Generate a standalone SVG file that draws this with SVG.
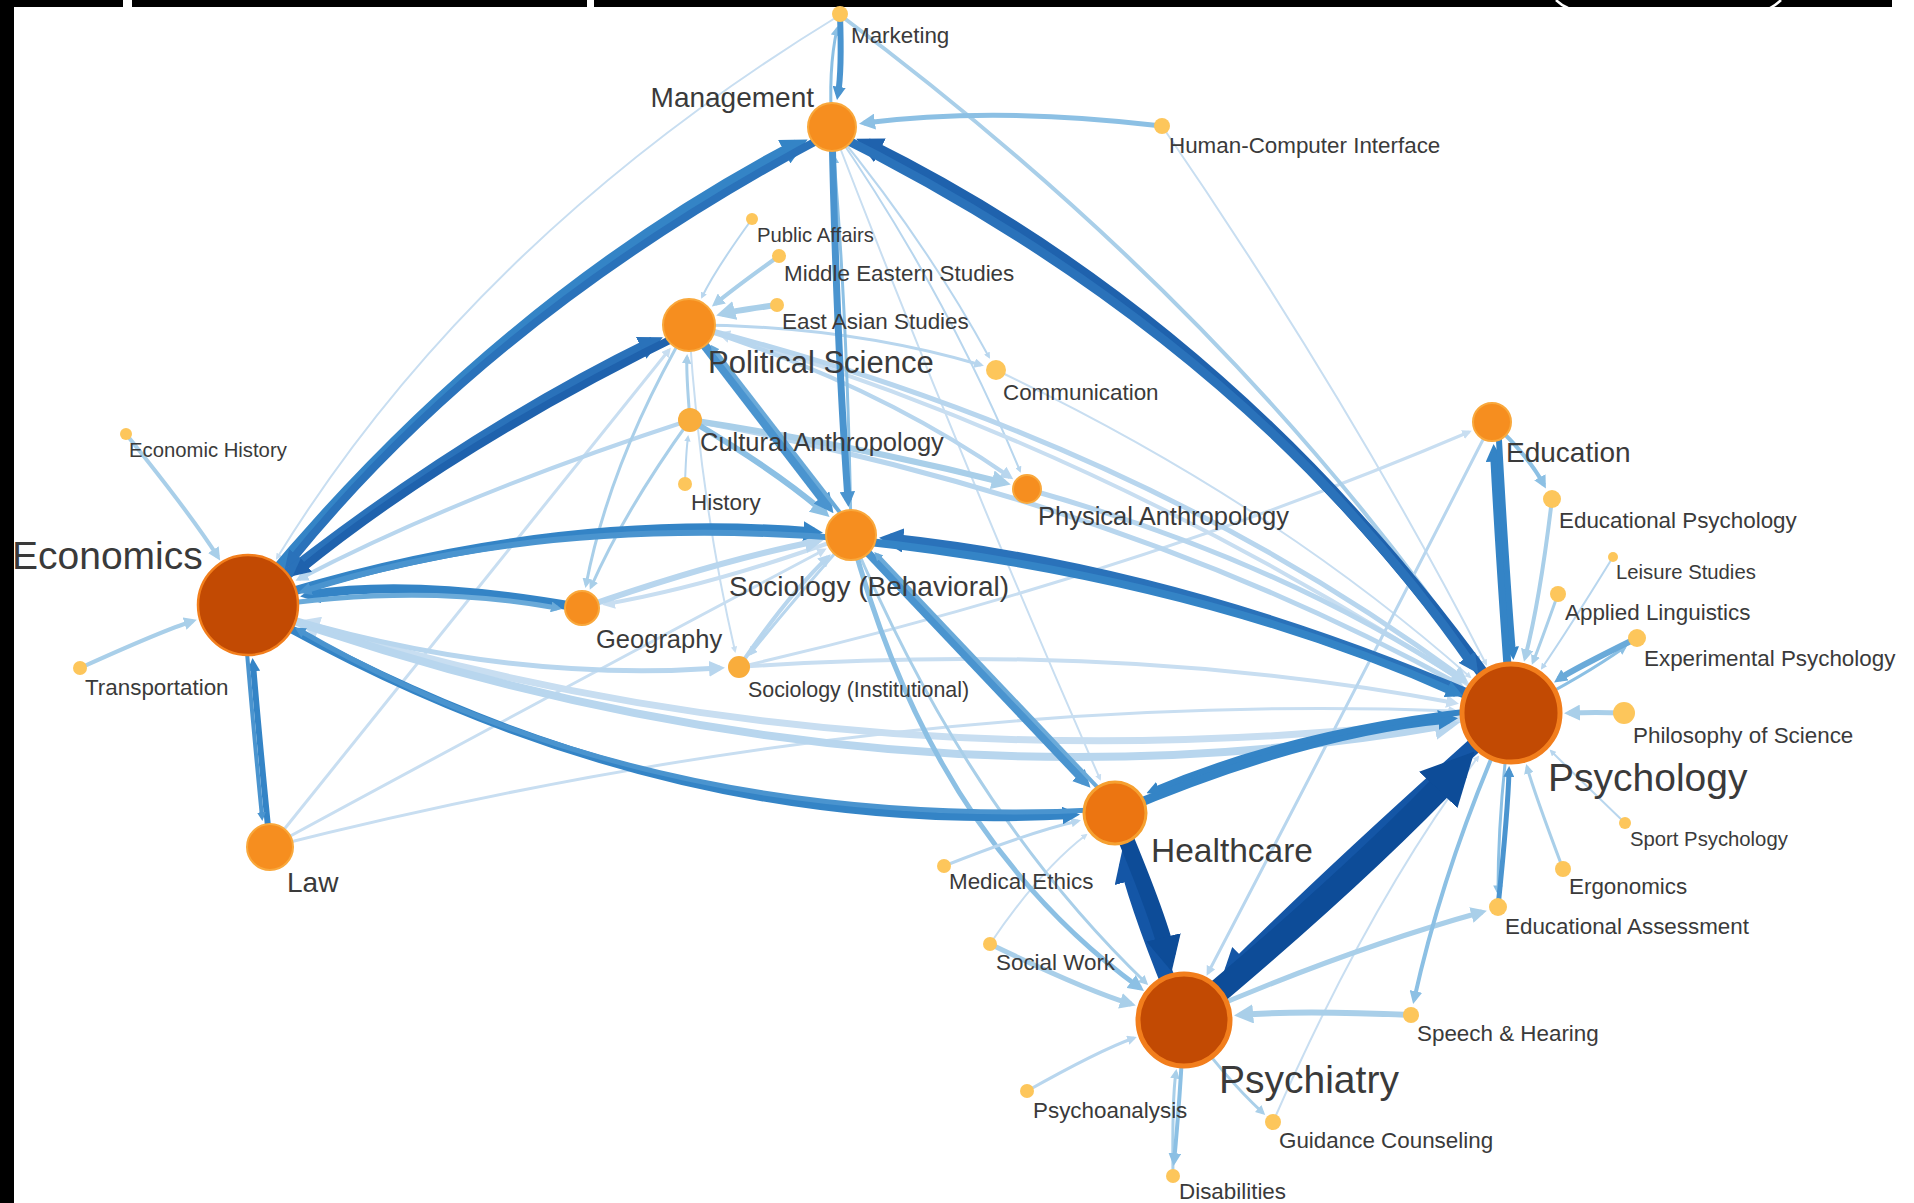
<svg xmlns="http://www.w3.org/2000/svg" width="1914" height="1203" viewBox="0 0 1914 1203">
<defs>
<style>
.e{fill:none;stroke-linecap:butt}
.navy{stroke:#0d4c98;marker-end:url(#m-navy)}
.navy2{stroke:#1456a6;marker-end:url(#m-navy2)}
.dark{stroke:#1f62ad;marker-end:url(#m-dark)}
.dark2{stroke:#2a72ba;marker-end:url(#m-dark2)}
.mid{stroke:#3484c6;marker-end:url(#m-mid)}
.mid2{stroke:#4a94cf;marker-end:url(#m-mid2)}
.lm{stroke:#6aaad9;marker-end:url(#m-lm)}
.lm2{stroke:#8cc0e4;marker-end:url(#m-lm2)}
.light{stroke:#a9cfe9;marker-end:url(#m-light)}
.light2{stroke:#b8d6ee;marker-end:url(#m-light2)}
.vlight{stroke:#c8def1;marker-end:url(#m-vlight)}
.big{fill:#c24a03;stroke:#f27e1c}
.hc{fill:#ec7511;stroke:#f6a030;stroke-width:3}
.med{fill:#f68e1f;stroke:#f9a83c;stroke-width:2}
.sm2{fill:#f9ad3c}
.sm{fill:#fdc65b}
text{font-family:"Liberation Sans",Arial,sans-serif;fill:#3a3a3a}
.f38{font-size:39px}
.f32{font-size:33.5px}
.f30{font-size:31px}
.f28{font-size:28px}
.f27{font-size:28px}
.f25{font-size:25.5px}
.f22{font-size:22.4px}
.f21{font-size:21.4px}
.f20{font-size:20.3px}
</style>
<marker id="m-navy" viewBox="0 0 10 10" refX="5.45" refY="5" markerWidth="2.2" markerHeight="2.2" orient="auto" markerUnits="strokeWidth"><path d="M0,0L10,5L0,10z" fill="#0d4c98"/></marker>
<marker id="m-navy2" viewBox="0 0 10 10" refX="5.45" refY="5" markerWidth="2.2" markerHeight="2.2" orient="auto" markerUnits="strokeWidth"><path d="M0,0L10,5L0,10z" fill="#1456a6"/></marker>
<marker id="m-dark" viewBox="0 0 10 10" refX="5.45" refY="5" markerWidth="2.2" markerHeight="2.2" orient="auto" markerUnits="strokeWidth"><path d="M0,0L10,5L0,10z" fill="#1f62ad"/></marker>
<marker id="m-dark2" viewBox="0 0 10 10" refX="5.45" refY="5" markerWidth="2.2" markerHeight="2.2" orient="auto" markerUnits="strokeWidth"><path d="M0,0L10,5L0,10z" fill="#2a72ba"/></marker>
<marker id="m-mid" viewBox="0 0 10 10" refX="5.45" refY="5" markerWidth="2.2" markerHeight="2.2" orient="auto" markerUnits="strokeWidth"><path d="M0,0L10,5L0,10z" fill="#3484c6"/></marker>
<marker id="m-mid2" viewBox="0 0 10 10" refX="5.45" refY="5" markerWidth="2.2" markerHeight="2.2" orient="auto" markerUnits="strokeWidth"><path d="M0,0L10,5L0,10z" fill="#4a94cf"/></marker>
<marker id="m-lm" viewBox="0 0 10 10" refX="5.45" refY="5" markerWidth="2.2" markerHeight="2.2" orient="auto" markerUnits="strokeWidth"><path d="M0,0L10,5L0,10z" fill="#6aaad9"/></marker>
<marker id="m-lm2" viewBox="0 0 10 10" refX="6.875" refY="5" markerWidth="3.2" markerHeight="3.2" orient="auto" markerUnits="strokeWidth"><path d="M0,0L10,5L0,10z" fill="#8cc0e4"/></marker>
<marker id="m-light" viewBox="0 0 10 10" refX="6.875" refY="5" markerWidth="3.2" markerHeight="3.2" orient="auto" markerUnits="strokeWidth"><path d="M0,0L10,5L0,10z" fill="#a9cfe9"/></marker>
<marker id="m-light2" viewBox="0 0 10 10" refX="6.875" refY="5" markerWidth="3.2" markerHeight="3.2" orient="auto" markerUnits="strokeWidth"><path d="M0,0L10,5L0,10z" fill="#b8d6ee"/></marker>
<marker id="m-vlight" viewBox="0 0 10 10" refX="6.875" refY="5" markerWidth="3.2" markerHeight="3.2" orient="auto" markerUnits="strokeWidth"><path d="M0,0L10,5L0,10z" fill="#c8def1"/></marker>
</defs>
<rect x="0" y="0" width="1914" height="1203" fill="#ffffff"/>
<g id="frame">
<rect x="0" y="0" width="14" height="1203" fill="#000"/>
<rect x="0" y="0" width="123" height="7" fill="#000"/>
<rect x="132" y="0" width="455" height="7" fill="#000"/>
<rect x="594" y="0" width="1298" height="7" fill="#000"/>
<path d="M1556,0 Q1561,5 1568,8 M1781,0 Q1776,5 1770,8" fill="none" stroke="#fff" stroke-width="2.5"/>
</g>
<g id="connectors">
<path class="e vlight" stroke-width="2" d="M840,15 Q473,239 277,558"/>
<path class="e vlight" stroke-width="2" d="M1162,126 Q1350,400 1486,664"/>
<path class="e vlight" stroke-width="2" d="M832,127 Q960,460 1100,779"/>
<path class="e light2" stroke-width="2" d="M832,127 Q945,290 1020,471"/>
<path class="e light2" stroke-width="2" d="M832,127 Q925,240 989,357"/>
<path class="e vlight" stroke-width="2" d="M1273,1122 Q1370,900 1478,757"/>
<path class="e vlight" stroke-width="3" d="M270,847 Q480,586 669,350"/>
<path class="e vlight" stroke-width="3" d="M270,847 Q560,690 824,550"/>
<path class="e vlight" stroke-width="3" d="M270,847 Q890,690 1455,711"/>
<path class="e vlight" stroke-width="2" d="M996,370 Q1270,500 1470,677"/>
<path class="e vlight" stroke-width="2" d="M689,325 Q700,500 735,651"/>
<path class="e vlight" stroke-width="2" d="M990,944 Q1040,870 1086,835"/>
<path class="e vlight" stroke-width="4" d="M739,667 Q1120,640 1455,703"/>
<path class="e vlight" stroke-width="3" d="M739,667 Q1126,578 1469,432"/>
<path class="e vlight" stroke-width="7" d="M1511,713 Q868,798 304,623"/>
<path class="e light2" stroke-width="8" d="M248,605 Q866,828 1452,724"/>
<path class="e vlight" stroke-width="4" d="M1511,713 Q1130,456 721,334"/>
<path class="e light2" stroke-width="5" d="M689,325 Q1138,438 1464,679"/>
<path class="e light2" stroke-width="5" d="M690,420 Q1124,500 1460,685"/>
<path class="e light2" stroke-width="5" d="M1027,489 Q1280,560 1463,681"/>
<path class="e light2" stroke-width="3" d="M689,325 Q845,325 981,365"/>
<path class="e light2" stroke-width="4" d="M689,325 Q870,380 1010,477"/>
<path class="e light2" stroke-width="4" d="M690,420 Q460,495 299,579"/>
<path class="e light2" stroke-width="5" d="M248,605 Q487,684 720,668"/>
<path class="e vlight" stroke-width="4" d="M851,535 Q715,585 606,604"/>
<path class="e light2" stroke-width="6" d="M582,608 Q720,560 818,541"/>
<path class="e light2" stroke-width="4" d="M739,667 Q788,595 828,557"/>
<path class="e light2" stroke-width="3" d="M851,535 Q785,610 750,654"/>
<path class="e light2" stroke-width="2" d="M752,219 Q715,270 702,297"/>
<path class="e light" stroke-width="4" d="M779,256 Q737,286 715,304"/>
<path class="e light" stroke-width="6" d="M777,305 Q733,311 722,314"/>
<path class="e light" stroke-width="6" d="M690,420 Q855,445 1005,483"/>
<path class="e light" stroke-width="3" d="M690,420 Q686,372 687,357"/>
<path class="e light2" stroke-width="2" d="M685,484 Q686,452 688,437"/>
<path class="e light" stroke-width="3" d="M690,420 Q625,510 591,587"/>
<path class="e light" stroke-width="3" d="M689,325 Q610,460 586,585"/>
<path class="e light" stroke-width="4" d="M126,434 Q192,516 218,557"/>
<path class="e light" stroke-width="4" d="M80,668 Q164,630 193,621"/>
<path class="e light" stroke-width="4" d="M840,15 Q1234,309 1479,666"/>
<path class="e lm2" stroke-width="5" d="M1162,126 Q997,106 864,123"/>
<path class="e light" stroke-width="3" d="M851,535 Q967,811 1146,983"/>
<path class="e lm2" stroke-width="5" d="M851,535 Q931,836 1140,988"/>
<path class="e light" stroke-width="4" d="M1552,499 Q1540,600 1525,658"/>
<path class="e light2" stroke-width="2" d="M1613,557 Q1568,630 1542,668"/>
<path class="e light" stroke-width="3" d="M1558,594 Q1538,650 1533,662"/>
<path class="e light" stroke-width="5" d="M1624,713 Q1595,712 1569,713"/>
<path class="e light2" stroke-width="2" d="M1625,823 Q1572,772 1551,751"/>
<path class="e light" stroke-width="3" d="M1563,869 Q1534,792 1527,767"/>
<path class="e light" stroke-width="6" d="M1411,1015 Q1298,1010 1240,1015"/>
<path class="e light" stroke-width="5" d="M1184,1020 Q1345,950 1482,912"/>
<path class="e light" stroke-width="5" d="M990,944 Q1085,990 1131,1004"/>
<path class="e light2" stroke-width="3" d="M1027,1091 Q1100,1050 1134,1038"/>
<path class="e light" stroke-width="3" d="M1173,1176 Q1172,1098 1176,1072"/>
<path class="e light" stroke-width="3" d="M1184,1020 Q1222,1075 1263,1113"/>
<path class="e light2" stroke-width="3" d="M1492,422 Q1340,720 1208,973"/>
<path class="e light2" stroke-width="3" d="M944,866 Q1030,832 1078,821"/>
<path class="e lm2" stroke-width="3" d="M832,127 Q828,70 837,29"/>
<path class="e lm2" stroke-width="3" d="M851,535 Q848,330 834,157"/>
<path class="e lm2" stroke-width="3" d="M1511,713 Q1578,680 1625,647"/>
<path class="e lm2" stroke-width="3" d="M1511,713 Q1498,810 1498,892"/>
<path class="e lm2" stroke-width="4" d="M1492,422 Q1528,455 1544,485"/>
<path class="e lm2" stroke-width="6" d="M690,420 Q775,470 825,513"/>
<path class="e lm2" stroke-width="4" d="M1511,713 Q1445,860 1414,1000"/>
<path class="e lm2" stroke-width="4" d="M1184,1020 Q1180,1100 1174,1162"/>
<path class="e mid2" stroke-width="6" d="M840,15 Q842,70 838,94"/>
<path class="e mid2" stroke-width="7" d="M832,127 Q836,330 848,500"/>
<path class="e lm" stroke-width="6" d="M1637,638 Q1572,670 1559,679"/>
<path class="e mid2" stroke-width="5" d="M1498,907 Q1508,810 1509,771"/>
<path class="e mid" stroke-width="6" d="M270,847 Q258,726 253,664"/>
<path class="e mid2" stroke-width="4" d="M243,605 Q253,726 262,817"/>
<path class="e mid2" stroke-width="9" d="M689,325 Q770,430 828,506"/>
<path class="e lm" stroke-width="4" d="M855,532 Q774,427 713,348"/>
<path class="e mid2" stroke-width="8" d="M851,535 Q983,674 1085,782"/>
<path class="e lm" stroke-width="4" d="M1119,810 Q987,671 877,555"/>
<path class="e mid" stroke-width="8" d="M248,605 Q651,839 1072,815"/>
<path class="e mid2" stroke-width="5" d="M1116,809 Q652,835 299,630"/>
<path class="e mid" stroke-width="9" d="M582,608 Q415,578 309,595"/>
<path class="e lm" stroke-width="5" d="M248,609 Q415,582 557,608"/>
<path class="e mid" stroke-width="9" d="M248,605 Q543,510 814,532"/>
<path class="e mid2" stroke-width="6" d="M851,539 Q543,514 304,591"/>
<path class="e mid" stroke-width="8" d="M1511,713 Q1500,568 1494,452"/>
<path class="e mid" stroke-width="6" d="M1498,422 Q1506,568 1513,654"/>
<path class="e mid" stroke-width="9" d="M1115,813 Q1305,732 1449,719"/>
<path class="e mid" stroke-width="6" d="M1510,707 Q1304,726 1152,791"/>
<path class="e dark2" stroke-width="11" d="M1511,713 Q1195,572 890,539"/>
<path class="e mid" stroke-width="8" d="M852,540 Q1196,577 1456,693"/>
<path class="e mid" stroke-width="12" d="M248,605 Q491,306 797,145"/>
<path class="e dark2" stroke-width="8" d="M835,131 Q494,310 290,562"/>
<path class="e dark2" stroke-width="11" d="M248,605 Q452,440 653,342"/>
<path class="e dark" stroke-width="8" d="M692,329 Q455,444 299,571"/>
<path class="e dark" stroke-width="12" d="M1511,713 Q1247,332 867,144"/>
<path class="e dark2" stroke-width="9" d="M829,131 Q1244,336 1473,666"/>
<path class="e navy2" stroke-width="16" d="M1184,1020 Q1142,920 1127,862"/>
<path class="e navy" stroke-width="16" d="M1115,813 Q1158,914 1168,956"/>
<path class="e navy2" stroke-width="16" d="M1511,713 Q1343,862 1231,973"/>
<path class="e navy" stroke-width="24" d="M1184,1020 Q1357,876 1458,769"/>
</g>
<g id="nodes">
<g id="n-marketing"><circle class="sm" cx="840" cy="14" r="8"/><text class="f22" x="851" y="43">Marketing</text></g>
<g id="n-management"><circle class="med" cx="832" cy="127" r="24"/><text class="f28" x="814" y="107" text-anchor="end">Management</text></g>
<g id="n-hci"><circle class="sm" cx="1162" cy="126" r="8"/><text class="f22" x="1169" y="153">Human-Computer Interface</text></g>
<g id="n-public-affairs"><circle class="sm" cx="752" cy="219" r="6"/><text class="f20" x="757" y="242">Public Affairs</text></g>
<g id="n-middle-eastern"><circle class="sm" cx="779" cy="256" r="7"/><text class="f22" x="784" y="281">Middle Eastern Studies</text></g>
<g id="n-east-asian"><circle class="sm" cx="777" cy="305" r="7"/><text class="f22" x="782" y="329">East Asian Studies</text></g>
<g id="n-political-science"><circle class="med" cx="689" cy="325" r="26"/><text class="f30" x="708" y="373">Political Science</text></g>
<g id="n-communication"><circle class="sm" cx="996" cy="370" r="10"/><text class="f22" x="1003" y="400">Communication</text></g>
<g id="n-cultural-anthropology"><circle class="sm2" cx="690" cy="420" r="12"/><text class="f25" x="700" y="451">Cultural Anthropology</text></g>
<g id="n-history"><circle class="sm" cx="685" cy="484" r="7"/><text class="f22" x="691" y="510">History</text></g>
<g id="n-physical-anthropology"><circle class="med" cx="1027" cy="489" r="14"/><text class="f25" x="1038" y="525">Physical Anthropology</text></g>
<g id="n-sociology-behavioral"><circle class="med" cx="851" cy="535" r="25"/><text class="f27" x="729" y="596">Sociology (Behavioral)</text></g>
<g id="n-economics"><circle class="big" stroke-width="2.5" cx="248" cy="605" r="50"/><text class="f38" x="12" y="569">Economics</text></g>
<g id="n-economic-history"><circle class="sm" cx="126" cy="434" r="6"/><text class="f20" x="129" y="457">Economic History</text></g>
<g id="n-transportation"><circle class="sm" cx="80" cy="668" r="7"/><text class="f22" x="85" y="695">Transportation</text></g>
<g id="n-geography"><circle class="med" cx="582" cy="608" r="17"/><text class="f25" x="596" y="648">Geography</text></g>
<g id="n-sociology-institutional"><circle class="sm2" cx="739" cy="667" r="11"/><text class="f21" x="748" y="697">Sociology (Institutional)</text></g>
<g id="n-law"><circle class="med" cx="270" cy="847" r="23"/><text class="f27" x="287" y="892">Law</text></g>
<g id="n-education"><circle class="med" cx="1492" cy="422" r="19"/><text class="f28" x="1506" y="462">Education</text></g>
<g id="n-educational-psychology"><circle class="sm" cx="1552" cy="499" r="9"/><text class="f22" x="1559" y="528">Educational Psychology</text></g>
<g id="n-leisure-studies"><circle class="sm" cx="1613" cy="557" r="5"/><text class="f20" x="1616" y="579">Leisure Studies</text></g>
<g id="n-applied-linguistics"><circle class="sm" cx="1558" cy="594" r="8"/><text class="f22" x="1565" y="620">Applied Linguistics</text></g>
<g id="n-experimental-psychology"><circle class="sm" cx="1637" cy="638" r="9"/><text class="f22" x="1644" y="666">Experimental Psychology</text></g>
<g id="n-philosophy-of-science"><circle class="sm" cx="1624" cy="713" r="11"/><text class="f22" x="1633" y="743">Philosophy of Science</text></g>
<g id="n-psychology"><circle class="big" stroke-width="5" cx="1511" cy="713" r="49"/><text class="f38" x="1548" y="791">Psychology</text></g>
<g id="n-sport-psychology"><circle class="sm" cx="1625" cy="823" r="6"/><text class="f20" x="1630" y="846">Sport Psychology</text></g>
<g id="n-ergonomics"><circle class="sm" cx="1563" cy="869" r="8"/><text class="f22" x="1569" y="894">Ergonomics</text></g>
<g id="n-educational-assessment"><circle class="sm" cx="1498" cy="907" r="9"/><text class="f22" x="1505" y="934">Educational Assessment</text></g>
<g id="n-healthcare"><circle class="hc" cx="1115" cy="813" r="31"/><text class="f32" x="1151" y="862">Healthcare</text></g>
<g id="n-medical-ethics"><circle class="sm" cx="944" cy="866" r="7"/><text class="f22" x="949" y="889">Medical Ethics</text></g>
<g id="n-social-work"><circle class="sm" cx="990" cy="944" r="7"/><text class="f22" x="996" y="970">Social Work</text></g>
<g id="n-psychiatry"><circle class="big" stroke-width="5" cx="1184" cy="1020" r="46"/><text class="f38" x="1219" y="1093">Psychiatry</text></g>
<g id="n-speech-hearing"><circle class="sm" cx="1411" cy="1015" r="8"/><text class="f22" x="1417" y="1041">Speech &amp; Hearing</text></g>
<g id="n-psychoanalysis"><circle class="sm" cx="1027" cy="1091" r="7"/><text class="f22" x="1033" y="1118">Psychoanalysis</text></g>
<g id="n-guidance-counseling"><circle class="sm" cx="1273" cy="1122" r="8"/><text class="f22" x="1279" y="1148">Guidance Counseling</text></g>
<g id="n-disabilities"><circle class="sm" cx="1173" cy="1176" r="7"/><text class="f22" x="1179" y="1199">Disabilities</text></g>
</g>
</svg>
